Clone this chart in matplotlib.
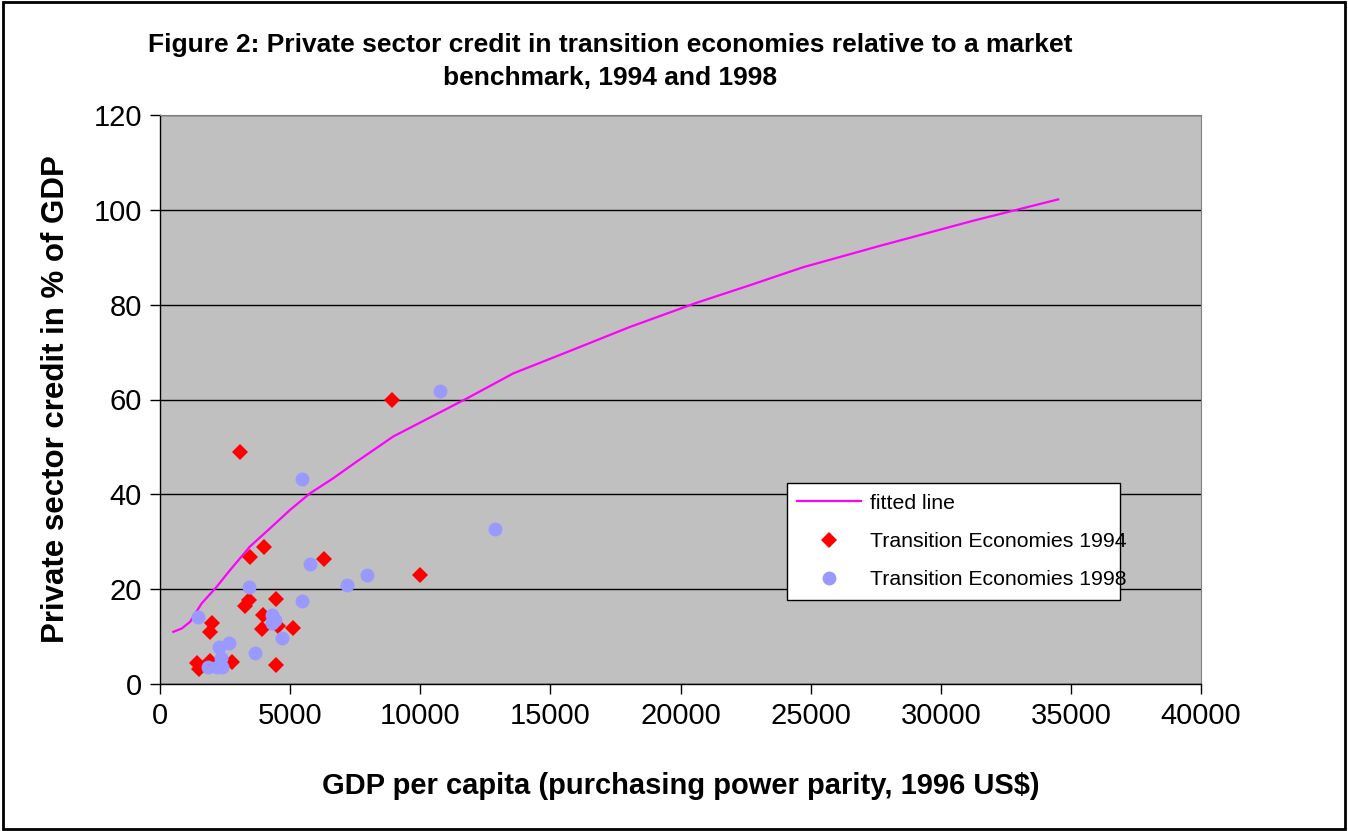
import matplotlib
matplotlib.use('Agg')
import matplotlib.pyplot as plt
from matplotlib.patches import Rectangle

plt.rcParams['font.family'] = ['Liberation Sans', 'DejaVu Sans']

# fitted benchmark line
fit_x = [511, 833, 1153, 1602, 2177, 2689, 3458, 4162, 4994, 5762, 6659, 7557,
         8963, 10373, 11783, 13573, 16008, 18056, 20618, 22666, 24714, 27660,
         31245, 34510]
fit_y = [11.0, 11.7, 13.1, 17.0, 20.5, 24.0, 29.0, 32.5, 36.7, 40.2, 43.4, 46.9,
         52.2, 56.2, 60.2, 65.5, 70.8, 75.3, 80.4, 84.1, 87.9, 92.4, 97.7, 102.2]

# transition economies 1994
x94 = [3070, 8913, 4000, 3458, 6289, 9990, 3430, 3265, 4444, 3970, 3905, 4520,
       5122, 1985, 1921, 1433, 1510, 1921, 2754, 4444]
y94 = [49.0, 60.0, 28.8, 26.7, 26.3, 22.9, 17.7, 16.4, 17.9, 14.6, 11.5, 12.2,
       11.9, 12.8, 11.0, 4.5, 3.1, 4.8, 4.7, 4.0]

# transition economies 1998
x98 = [10745, 5443, 5750, 3432, 7172, 7965, 12890, 5443, 1448, 4291, 4291, 4400,
       4675, 2663, 2279, 3662, 2343, 1857, 2178, 2369]
y98 = [61.7, 43.2, 25.4, 20.4, 20.9, 23.0, 32.7, 17.5, 14.1, 14.6, 12.8, 13.5,
       9.8, 8.6, 7.7, 6.5, 5.4, 3.5, 3.5, 3.5]

fig = plt.figure(figsize=(13.48, 8.31), dpi=100)
W, H = 1348, 831
ax = fig.add_axes([160 / W, (H - 684) / H, 1041 / W, 569 / H])
ax.set_facecolor('#C0C0C0')

ax.plot(fit_x, fit_y, color='#FF00FF', lw=1.6, label='fitted line', zorder=3)
ax.plot(x94, y94, 'D', color='#FF0000', ms=7.8, mew=0, label='Transition Economies 1994', zorder=4)
ax.plot(x98, y98, 'o', color='#9999FF', ms=10, mew=0, label='Transition Economies 1998', zorder=5)

ax.set_xlim(0, 40000)
ax.set_ylim(0, 120)
ax.set_xticks(range(0, 40001, 5000))
ax.set_yticks(range(0, 121, 20))
ax.yaxis.grid(True, color='black', lw=1)
ax.set_axisbelow(True)
ax.tick_params(labelsize=21, length=7, width=1, direction='out', pad=6)
for s in ['top', 'right']:
    ax.spines[s].set_color('#808080')
for s in ['left', 'bottom']:
    ax.spines[s].set_color('black')
    ax.spines[s].set_linewidth(1)

ax.set_xlabel('GDP per capita (purchasing power parity, 1996 US$)', fontsize=21,
              fontweight='bold', labelpad=30)
ax.set_ylabel('Private sector credit in % of GDP', fontsize=22.5, fontweight='bold', labelpad=16)

leg = ax.legend(loc='lower left', bbox_to_anchor=(0.602, 0.148, 0.32, 0.203), mode='expand',
                borderaxespad=0, fontsize=15.3, frameon=True, fancybox=False, edgecolor='black',
                facecolor='white', framealpha=1, borderpad=0.5, labelspacing=0.9,
                handlelength=3.0, handletextpad=0.4)
leg.get_frame().set_linewidth(1)

fig.text(610 / W, 1 - 45 / H, 'Figure 2: Private sector credit in transition economies relative to a market',
         ha='center', va='center', fontsize=19, fontweight='bold')
fig.text(610 / W, 1 - 78 / H, 'benchmark, 1994 and 1998',
         ha='center', va='center', fontsize=19, fontweight='bold')

fig.patches.append(Rectangle((0.002, 0.002), 0.996, 0.995, transform=fig.transFigure,
                             fill=False, edgecolor='black', lw=2))

fig.savefig('out.png', dpi=100)
